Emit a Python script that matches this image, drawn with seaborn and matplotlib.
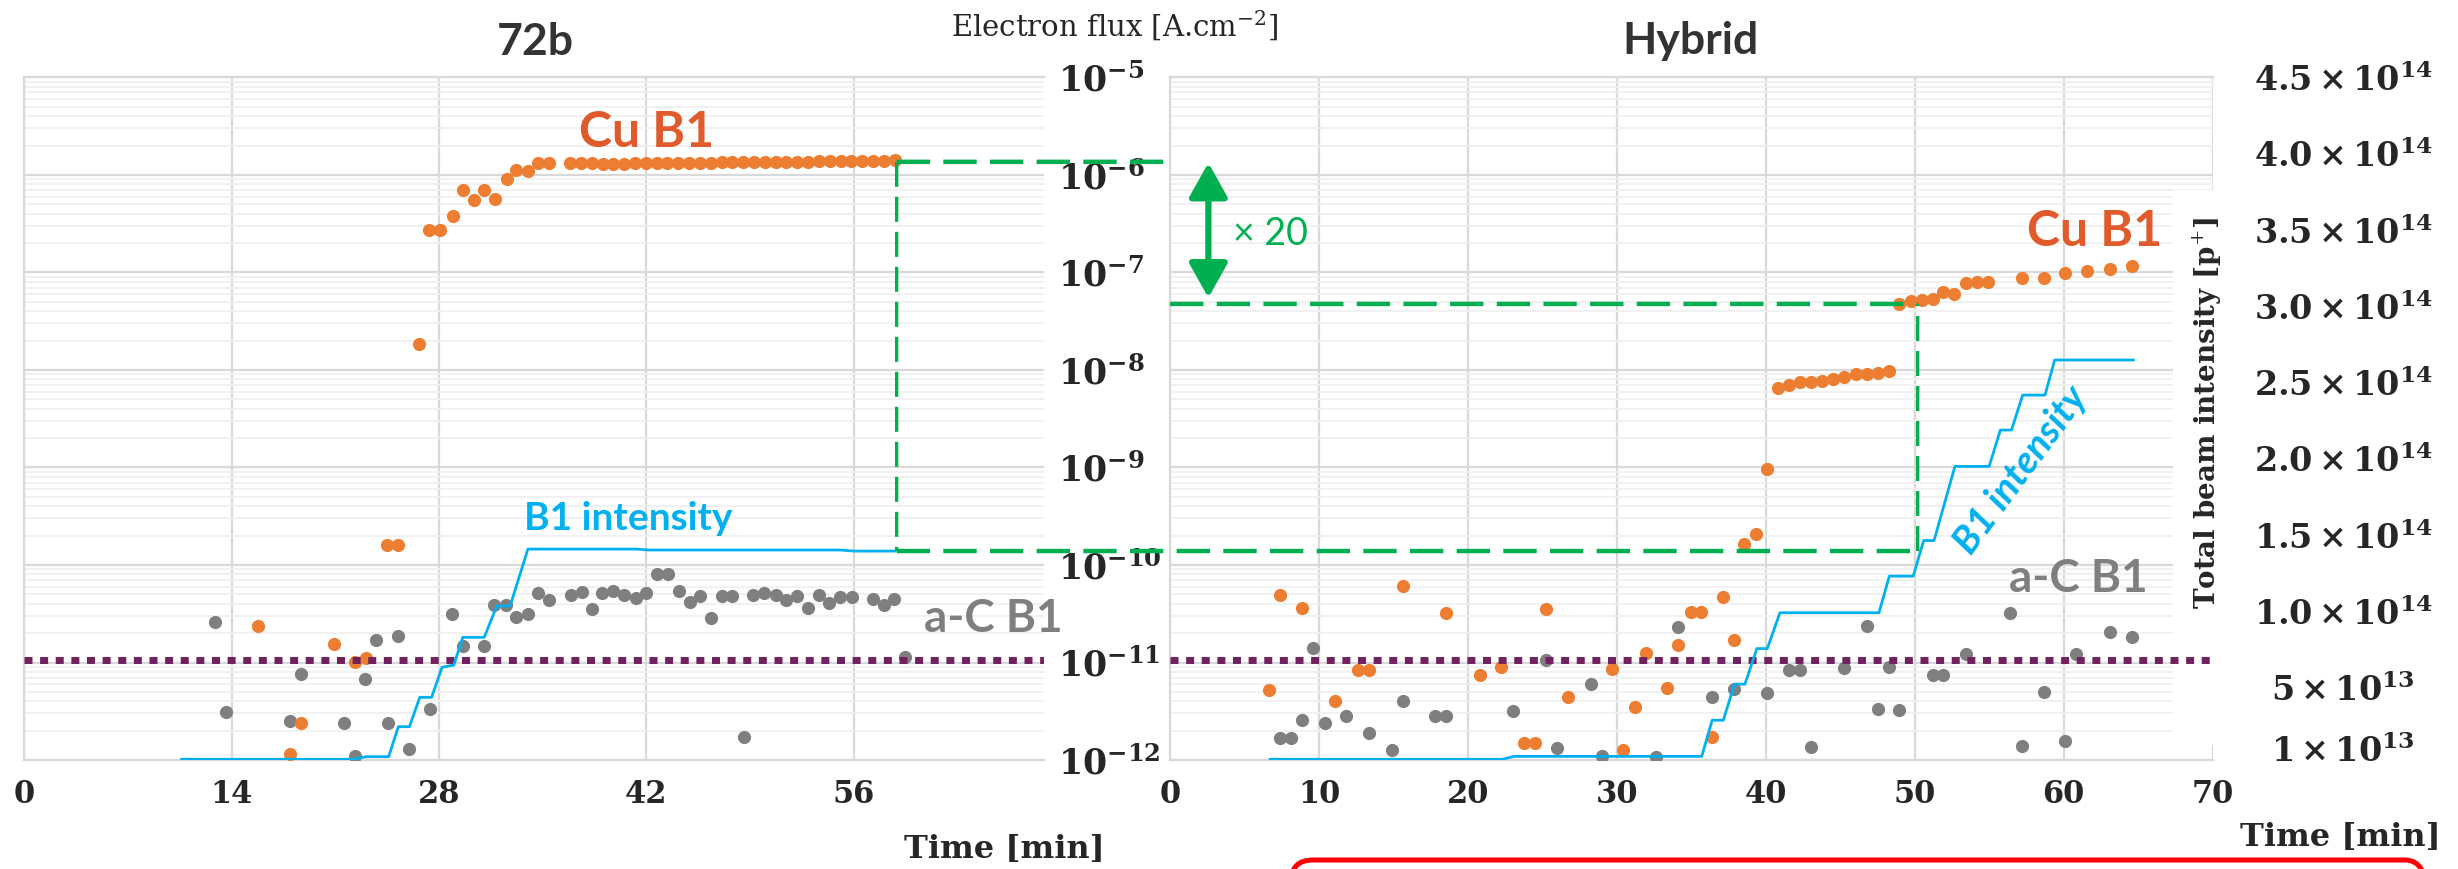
import numpy as np
import matplotlib
matplotlib.use("Agg")
import matplotlib.pyplot as plt
from matplotlib.patches import ConnectionPatch, FancyBboxPatch, Rectangle
from matplotlib.ticker import LogLocator, NullFormatter
import seaborn as sns

# ------------------------------------------------------------
# 72b fill (left panel): electron flux [A/cm2] vs time [min]
# ------------------------------------------------------------
t72_cu = [15.79, 17.93, 18.66, 20.88, 22.32, 23.04, 24.50, 25.25,
          26.67, 27.34, 28.06, 28.92, 29.62, 30.34, 31.05, 31.75, 32.56,
          33.17, 33.98, 34.70, 35.42,
          36.84, 37.57, 38.30, 39.04, 39.77, 40.50, 41.23, 41.96, 42.69,
          43.42, 44.15, 44.88, 45.62, 46.35, 47.08, 47.81, 48.54, 49.27,
          50.00, 50.73, 51.46, 52.19, 52.92, 53.66, 54.39, 55.12, 55.85,
          56.58, 57.31, 58.04, 58.78]
cu72 = [2.38e-11, 1.14e-12, 2.41e-12, 1.56e-11, 1.01e-11, 1.11e-11, 1.62e-10, 1.62e-10,
        1.84e-8, 2.70e-7, 2.70e-7, 3.78e-7, 6.93e-7, 5.47e-7, 6.93e-7, 5.65e-7, 9.14e-7,
        1.11e-6, 1.09e-6, 1.33e-6, 1.33e-6,
        1.33e-6, 1.32e-6, 1.31e-6, 1.30e-6, 1.30e-6, 1.30e-6, 1.31e-6, 1.31e-6, 1.32e-6,
        1.32e-6, 1.32e-6, 1.33e-6, 1.33e-6, 1.33e-6, 1.34e-6, 1.34e-6, 1.35e-6, 1.35e-6,
        1.36e-6, 1.36e-6, 1.37e-6, 1.37e-6, 1.37e-6, 1.38e-6, 1.38e-6, 1.38e-6, 1.39e-6,
        1.39e-6, 1.40e-6, 1.40e-6, 1.41e-6]

t72_ac = [12.87, 13.59, 17.93, 18.66, 21.60, 22.30, 23.02, 23.72, 24.53, 25.25,
          25.97, 27.39, 28.89, 29.59, 31.03, 31.73, 32.50, 33.17, 33.98, 34.68,
          35.40, 36.89, 37.65, 38.33, 39.02, 39.76, 40.47, 41.28, 41.97, 42.69,
          43.48, 44.22, 44.94, 45.62, 46.36, 47.08, 47.80, 48.59, 49.22, 49.96,
          50.73, 51.43, 52.15, 52.93, 53.65, 54.35, 55.07, 55.90, 57.32, 58.04,
          58.71, 59.46]
ac72 = [2.61e-11, 3.09e-12, 2.50e-12, 7.71e-12, 2.41e-12, 1.10e-12, 6.81e-12, 1.71e-11, 2.41e-12, 1.88e-11,
        1.31e-12, 3.37e-12, 3.13e-11, 1.46e-11, 1.46e-11, 3.91e-11, 3.91e-11, 2.96e-11, 3.13e-11, 5.14e-11,
        4.40e-11, 4.94e-11, 5.26e-11, 3.56e-11, 5.14e-11, 5.47e-11, 4.94e-11, 4.56e-11, 5.14e-11, 8.13e-11,
        8.13e-11, 5.47e-11, 4.15e-11, 4.79e-11, 2.87e-11, 4.79e-11, 4.79e-11, 1.74e-12, 4.94e-11, 5.14e-11,
        4.94e-11, 4.40e-11, 4.79e-11, 3.64e-11, 4.98e-11, 4.09e-11, 4.68e-11, 4.68e-11, 4.50e-11, 3.85e-11,
        4.50e-11, 1.15e-11]

# B1 beam intensity [p+] (vertices of the stepped line)
t72_int = [10.6, 22.2, 23.1, 24.6, 25.25, 26.0, 26.7, 27.5, 28.2, 29.0,
           29.6, 31.05, 31.9, 32.8, 34.0, 41.3, 42.2, 55.1, 56.0, 58.8]
int72 = [3.2e12, 3.2e12, 4.9e12, 4.9e12, 2.45e13, 2.45e13, 4.37e13, 4.37e13, 6.33e13, 6.48e13,
         8.29e13, 8.29e13, 1.034e14, 1.034e14, 1.406e14, 1.406e14, 1.40e14, 1.40e14, 1.393e14, 1.393e14]

# ------------------------------------------------------------
# Hybrid fill (right panel)
# ------------------------------------------------------------
thy_cu = [6.67, 7.39, 8.86, 11.10, 12.64, 13.35, 15.63, 18.54, 20.79, 22.25,
          23.79, 24.50, 25.24, 26.69, 29.66, 30.42, 31.23, 31.96, 33.39, 34.13,
          34.96, 35.67, 36.37, 37.10, 37.84, 38.55, 39.36, 40.10,
          40.83, 41.55, 42.29, 43.02, 43.80, 44.54, 45.26, 46.08, 46.82, 47.53, 48.25,
          48.97, 49.72, 50.48, 51.22, 51.89, 52.67, 53.43, 54.17, 54.95,
          57.23, 58.66, 60.11, 61.59, 63.11, 64.56]
cuhy = [5.19e-12, 4.95e-11, 3.65e-11, 4.06e-12, 8.43e-12, 8.43e-12, 6.14e-11, 3.22e-11, 7.45e-12, 8.93e-12,
        1.48e-12, 1.48e-12, 3.54e-11, 4.43e-12, 8.63e-12, 1.27e-12, 3.48e-12, 1.26e-11, 5.47e-12, 1.51e-11,
        3.32e-11, 3.32e-11, 1.72e-12, 4.67e-11, 1.70e-11, 1.65e-10, 2.09e-10, 9.59e-10,
        6.53e-9, 7.02e-9, 7.48e-9, 7.48e-9, 7.76e-9, 8.04e-9, 8.41e-9, 9.04e-9, 9.04e-9, 9.31e-9, 9.84e-9,
        4.75e-8, 5.14e-8, 5.26e-8, 5.38e-8, 6.31e-8, 6.07e-8, 7.80e-8, 8.05e-8, 8.05e-8,
        8.71e-8, 8.85e-8, 9.95e-8, 1.03e-7, 1.09e-7, 1.16e-7]

thy_ac = [7.39, 8.12, 8.86, 9.58, 10.38, 11.84, 13.35, 14.92, 15.63, 17.80,
          18.54, 23.05, 25.24, 25.98, 28.23, 28.97, 32.65, 34.13, 36.37, 37.84,
          40.09, 41.55, 42.29, 43.03, 45.26, 46.83, 47.54, 48.25, 48.97, 51.24,
          51.89, 53.43, 56.41, 57.21, 58.68, 60.11, 60.83, 63.13, 64.56]
achy = [1.67e-12, 1.67e-12, 2.57e-12, 1.42e-11, 2.42e-12, 2.81e-12, 1.88e-12, 1.28e-12, 4.06e-12, 2.81e-12,
        2.81e-12, 3.18e-12, 1.05e-11, 1.32e-12, 6.05e-12, 1.10e-12, 1.07e-12, 2.33e-11, 4.46e-12, 5.35e-12,
        4.90e-12, 8.43e-12, 8.43e-12, 1.36e-12, 8.73e-12, 2.38e-11, 3.36e-12, 9.06e-12, 3.28e-12, 7.50e-12,
        7.50e-12, 1.23e-11, 3.22e-11, 1.40e-12, 5.01e-12, 1.58e-12, 1.23e-11, 2.04e-11, 1.83e-11]

thy_int = [6.7, 22.3, 23.1, 35.7, 36.4, 37.15, 37.9, 38.6, 39.4, 40.1, 40.95, 47.6,
           48.3, 49.9, 50.6, 51.3, 52.7, 55.0, 55.75, 56.5, 57.25, 58.75, 59.4, 64.7]
inthy = [3.2e12, 3.2e12, 5.1e12, 5.1e12, 2.88e13, 2.88e13, 5.24e13, 5.24e13, 7.57e13, 7.57e13,
         9.92e13, 9.92e13, 1.232e14, 1.232e14, 1.465e14, 1.465e14, 1.951e14, 1.951e14, 2.189e14,
         2.189e14, 2.418e14, 2.418e14, 2.648e14, 2.648e14]

# reference levels of the comparison guide
threshold_flux = 1.06e-11
flux_72b_ref = 1.36e-6
flux_hyb_ref = 4.75e-8
int_match_level = 1.39e-10   # height (on the flux axis) of the 72b intensity plateau
t_72b_ref = 58.9
t_hyb_ref = 50.2

flux_ticks = [1e-12, 1e-11, 1e-10, 1e-9, 1e-8, 1e-7, 1e-6, 1e-5]
int_ticks = [1e13, 5e13, 1e14, 1.5e14, 2e14, 2.5e14, 3e14, 3.5e14, 4e14, 4.5e14]
int_tick_labels = [r"$\mathbf{1\times10^{13}}$", r"$\mathbf{5\times10^{13}}$",
                   r"$\mathbf{1.0\times10^{14}}$", r"$\mathbf{1.5\times10^{14}}$",
                   r"$\mathbf{2.0\times10^{14}}$", r"$\mathbf{2.5\times10^{14}}$",
                   r"$\mathbf{3.0\times10^{14}}$", r"$\mathbf{3.5\times10^{14}}$",
                   r"$\mathbf{4.0\times10^{14}}$", r"$\mathbf{4.5\times10^{14}}$"]
INT_LIM = (2.7e12, 4.49e14)

ORANGE = "#ED7D31"
CU_TXT = "#E05A2B"
GRAY = "#7F7F7F"
BLUE = "#00B0F0"
GREEN = "#00B050"
PURPLE = "#70215E"
DARK = "#262626"

sns.set_theme(style="white")
plt.rcParams["font.family"] = ["DejaVu Serif"]
plt.rcParams["mathtext.fontset"] = "dejavuserif"

fig = plt.figure(figsize=(24.58, 8.69), dpi=100)
ax_l = fig.add_axes([0.00993, 0.1254, 0.4148, 0.7856])
ax_r = fig.add_axes([0.47604, 0.1254, 0.4241, 0.7856])


def style_flux_axis(ax, xmax, xticks):
    ax.set_yscale("log")
    ax.set_ylim(1e-12, 1e-5)
    ax.set_xlim(0, xmax)
    ax.set_xticks(xticks)
    ax.set_xticklabels([str(t) for t in xticks], fontsize=22,
                       fontweight="bold", color=DARK)
    ax.set_yticks(flux_ticks)
    ax.yaxis.set_minor_locator(LogLocator(base=10, subs=np.arange(2, 10), numticks=50))
    ax.yaxis.set_minor_formatter(NullFormatter())
    ax.grid(which="major", color="#D9D9D9", lw=1.6)
    ax.grid(which="minor", axis="y", color="#F0F0F0", lw=1.3)
    ax.set_axisbelow(True)
    ax.tick_params(which="both", length=0)
    ax.tick_params(axis="x", pad=14)
    for side in ["left", "top", "bottom"]:
        ax.spines[side].set_color("#D9D9D9")
        ax.spines[side].set_linewidth(1.6)
    ax.spines["right"].set_visible(False)
    ax.set_xlabel("")
    ax.set_ylabel("")


# --- scatter of the electron flux ---
for ax, tc, cu, ta, ac in [(ax_l, t72_cu, cu72, t72_ac, ac72),
                           (ax_r, thy_cu, cuhy, thy_ac, achy)]:
    sns.scatterplot(x=ta, y=ac, ax=ax, color=GRAY, s=90, linewidth=0, zorder=4)
    sns.scatterplot(x=tc, y=cu, ax=ax, color=ORANGE, s=90, linewidth=0, zorder=4)
    ax.axhline(threshold_flux, color=PURPLE, lw=5, ls=(0, (1.15, 1.1)), zorder=5)

style_flux_axis(ax_l, 68.85, [0, 14, 28, 42, 56])
style_flux_axis(ax_r, 70, [0, 10, 20, 30, 40, 50, 60, 70])

# --- beam intensity on twin axes ---
ax_l2 = ax_l.twinx()
ax_r2 = ax_r.twinx()
for ax2, ti, iv in [(ax_l2, t72_int, int72), (ax_r2, thy_int, inthy)]:
    sns.lineplot(x=ti, y=iv, ax=ax2, color=BLUE, lw=2.0, sort=False, estimator=None)
    ax2.set_ylim(*INT_LIM)
    ax2.set_xlabel("")
    ax2.set_ylabel("")
    ax2.tick_params(which="both", length=0)
    for sp in ax2.spines.values():
        sp.set_visible(False)
ax_l2.set_yticks([])
ax_r2.set_yticks(int_ticks)
ax_r2.set_yticklabels(int_tick_labels, fontsize=24, color=DARK)
ax_r2.tick_params(axis="y", pad=94)
ax_l.set_xlim(0, 68.85)
ax_r.set_xlim(0, 70)
for lab in ax_r2.get_yticklabels():
    lab.set_horizontalalignment("center")

# electron flux labels sit between the two panels (after twinx, which resets the side)
ax_l.yaxis.tick_right()
ax_l.set_yticks(flux_ticks)
ax_l.set_yticklabels([rf"$\mathbf{{10^{{{int(round(np.log10(v)))}}}}}$" for v in flux_ticks],
                     fontsize=25, color=DARK)
ax_l.tick_params(axis="y", which="both", pad=10, length=0, labelleft=False, labelright=True)
ax_r.tick_params(axis="y", which="both", labelleft=False, labelright=False)

# white strip behind the intensity axis title
ax_r.add_patch(Rectangle((0.962, 0.022), 0.038, 0.813, transform=ax_r.transAxes,
                         facecolor="white", edgecolor="none", zorder=2.5))

# --- series labels ---
sans = "Lato"
ax_l.text(42.0, 1.93e-6, "Cu B1", color=CU_TXT, fontsize=36, fontweight="bold",
          family=sans, ha="center", va="baseline")
ax_l.text(65.4, 2.05e-11, "a-C B1", color=GRAY, fontsize=33, fontweight="bold",
          family=sans, ha="center", va="baseline")
ax_l.text(40.8, 2.26e-10, "B1 intensity", color=BLUE, fontsize=28, fontweight="bold",
          family=sans, ha="center", va="baseline")
ax_r.text(62.1, 1.87e-7, "Cu B1", color=CU_TXT, fontsize=36, fontweight="bold",
          family=sans, ha="center", va="baseline")
ax_r.text(61.0, 5.32e-11, "a-C B1", color=GRAY, fontsize=33, fontweight="bold",
          family=sans, ha="center", va="baseline")
ax_r.text(57.1, 9.4e-10, "B1 intensity", color=BLUE, fontsize=28, fontweight="bold",
          fontstyle="italic", family=sans, ha="center", va="center",
          rotation=53.5, rotation_mode="anchor", zorder=6)
ax_r.text(4.2, 1.91e-7, "× 20", color=GREEN, fontsize=27, family=sans,
          ha="left", va="baseline")
ax_r.annotate("", xy=(2.57, 5.5e-8), xytext=(2.57, 1.33e-6),
              arrowprops=dict(arrowstyle="<|-|>,head_length=0.75,head_width=0.42",
                              color=GREEN, lw=4.5, mutation_scale=28,
                              shrinkA=0, shrinkB=0), zorder=6)

# --- green comparison guide across both panels ---
guide = [((t_72b_ref, flux_72b_ref), ax_l, (0, flux_72b_ref), ax_r, 3.2),
         ((t_72b_ref, flux_72b_ref), ax_l, (t_72b_ref, int_match_level), ax_l, 2.4),
         ((t_72b_ref, int_match_level), ax_l, (t_hyb_ref, int_match_level), ax_r, 3.2),
         ((t_hyb_ref, int_match_level), ax_r, (t_hyb_ref, flux_hyb_ref), ax_r, 2.4),
         ((0, flux_hyb_ref), ax_r, (t_hyb_ref, flux_hyb_ref), ax_r, 3.2)]
for a, axa, b, axb, lw in guide:
    cp = ConnectionPatch(xyA=a, coordsA=axa.transData, xyB=b, coordsB=axb.transData,
                         color=GREEN, lw=lw, linestyle=(0, (7.5, 3)), zorder=6)
    cp.set_capstyle("butt")
    fig.add_artist(cp)

# --- titles and axis titles ---
fig.text(535 / 2458, 1 - 55 / 869, "72b", family=sans, fontweight="bold", fontsize=32,
         color="#333333", ha="center", va="baseline")
fig.text(1691 / 2458, 1 - 54 / 869, "Hybrid", family=sans, fontweight="bold", fontsize=32,
         color="#333333", ha="center", va="baseline")
fig.text(1115 / 2458, 1 - 37 / 869, r"Electron flux [A.cm$^{-2}$]", fontsize=21,
         color=DARK, ha="center", va="baseline")
fig.text(1004 / 2458, 1 - 858 / 869, "Time [min]", fontsize=23, fontweight="bold",
         color=DARK, ha="center", va="baseline")
fig.text(2340 / 2458, 1 - 846 / 869, "Time [min]", fontsize=23, fontweight="bold",
         color=DARK, ha="center", va="baseline")
fig.text(2207 / 2458, 1 - 413 / 869, r"Total beam intensity [p$^{+}$]", fontsize=20,
         fontweight="bold", color=DARK, rotation=90, ha="center", va="center")

# red rounded frame peeking in at the bottom edge (pixel coordinates)
fig.add_artist(FancyBboxPatch((1291, -50), 1136, 59, boxstyle="round,pad=0,rounding_size=22",
                              transform=None, facecolor="none", edgecolor="#FF0000", lw=3.6))

fig.savefig("out.png", dpi=100)
